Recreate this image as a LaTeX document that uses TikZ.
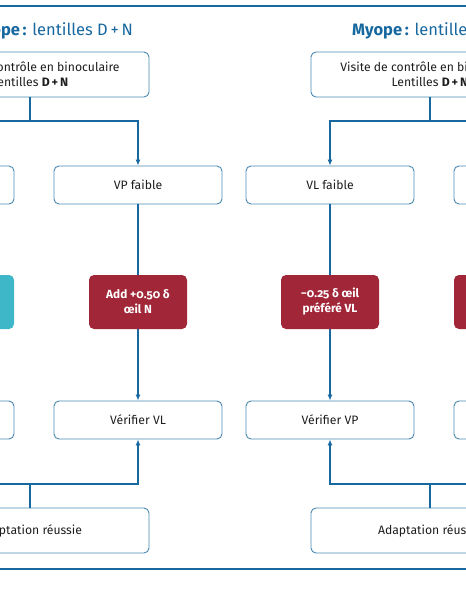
\documentclass[tikz,border=0pt]{standalone}
\usepackage{fontspec}
\setmainfont[Numbers=OldStyle]{Fira Sans}
\usetikzlibrary{arrows.meta,positioning}
\definecolor{lensblue}{RGB}{24,104,160}
\definecolor{lensline}{RGB}{72,136,176}
\definecolor{lensred}{RGB}{160,38,56}
\definecolor{lensteal}{RGB}{62,184,200}
\definecolor{lenstext}{RGB}{30,30,30}

\begin{document}
\begin{tikzpicture}[x=1pt,y=-1pt,font=\fontsize{12.2}{15}\selectfont,
 >={Latex[length=6pt,width=5pt]},
 box/.style={draw=lensline,line width=.9pt,rounded corners=5pt,fill=white,
 minimum width=168pt,minimum height=38pt,align=center,text=lenstext},
 visit/.style={box,minimum width=238pt,minimum height=45pt},
 act/.style={rounded corners=5pt,fill=lensred,text=white,font=\fontsize{11.8}{15}\selectfont\bfseries,
 minimum width=98pt,minimum height=54pt,align=center},
 wideact/.style={act,minimum width=168pt},
 headline/.style={text=lensblue,font=\fontsize{16.5}{19}\selectfont,inner sep=0pt},
 link/.style={draw=lensblue,line width=1.1pt},
 arr/.style={link,->},
 rule/.style={draw=lensblue,line width=1.8pt}]
\useasboundingbox (0,0) rectangle (466,600);
\clip (0,0) rectangle (466,600);

\draw[rule] (-10,6)--(476,6);
\draw[rule] (-10,569)--(476,569);

% titles
\node[headline,anchor=base east] (hyptitle) at (133,35)
 {\textbf{Hypermétrope\,:} lentilles D\,+\,N};
\node[headline,anchor=base west] (myotitle) at (352,35)
 {\textbf{Myope\,:} lentilles D\,+\,N};

% visits
\node[visit] (hypvisit) at (30,74.5) {Visite de contrôle en binoculaire\\Lentilles \textbf{D\,+\,N}};
\node[visit] (myovisit) at (430,74.5) {Visite de contrôle en binoculaire\\Lentilles \textbf{D\,+\,N}};

% complaints
\node[box] (hypvl) at (-70,185) {};
\node[box] (hypvp) at (138,185) {VP faible};
\node[box] (myovl) at (330,185) {VL faible};
\node[box] (myovp) at (538,185) {};

% checks
\node[box] (hypchkl) at (-70,420) {};
\node[box] (hypchk) at (138,420) {Vérifier VL};
\node[box] (myochk) at (330,420) {Vérifier VP};
\node[box] (myochkr) at (538,420) {};

% success
\node[visit] (hypok) at (30,530.5) {Adaptation réussie};
\node[visit] (myook) at (430,530.5) {Adaptation réussie};

\coordinate (hypsplit) at (30,121);
\coordinate (myosplit) at (430,121);
\coordinate (hypjoin) at (30,484);
\coordinate (myojoin) at (430,484);

\draw[link] (hypvisit)--(hypsplit);
\draw[arr] (hypsplit) -| (hypvl.north);
\draw[arr] (hypsplit) -| (hypvp.north);
\draw[link] (myovisit)--(myosplit);
\draw[arr] (myosplit) -| (myovl.north);
\draw[arr] (myosplit) -| (myovp.north);

\draw[arr] (hypvp)--(hypchk);
\draw[arr] (myovl)--(myochk);

\draw[link] (hypok)--(hypjoin);
\draw[arr] (hypjoin) -| (hypchkl.south);
\draw[arr] (hypjoin) -| (hypchk.south);
\draw[link] (myook)--(myojoin);
\draw[arr] (myojoin) -| (myochk.south);
\draw[arr] (myojoin) -| (myochkr.south);

% corrections
\node[wideact,fill=lensteal] (hypfix) at (-70,302) {};
\node[act] (hypadd) at (138,302) {Add +0.50 δ\\œil N};
\node[act] (myominus) at (330,302) {−0.25 δ œil\\préféré VL};
\node[wideact] (myofix) at (538,302) {};
\end{tikzpicture}
\end{document}
